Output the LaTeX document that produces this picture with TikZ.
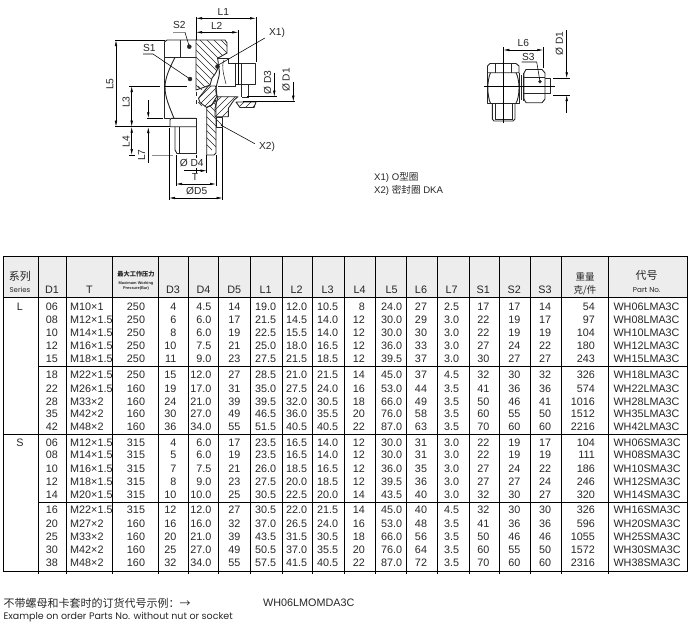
\documentclass[tikz,border=0pt]{standalone}
\usepackage{fontspec}
\setmainfont{Liberation Sans}
\newfontfamily\cjkfont{Noto Sans CJK SC}
\newfontfamily\geofont{Poppins}
\usepackage{tikz}
\usetikzlibrary{arrows.meta}
\definecolor{headgray}{gray}{0.93}
\definecolor{inkgray}{gray}{0.15}
\definecolor{leadgray}{gray}{0.55}
\tikzset{
  outline/.style={line width=.9pt,color=inkgray,line join=round},
  thinline/.style={line width=.55pt,color=inkgray},
  hatchline/.style={line width=.5pt,color=inkgray},
  dimline/.style={line width=.55pt,color=black,>={Latex[length=6pt,width=2.5pt]}},
  grayline/.style={line width=.8pt,color=leadgray},
  dimlabel/.style={inner sep=0pt,color=inkgray,font=\fontsize{10.2}{12}\selectfont},
  gridline/.style={line width=.8pt,color=black},
  cell/.style={inner sep=0pt,color=inkgray,font=\fontsize{10.8}{12}\selectfont}
}
% hatch of a closed region, lines go down to the right
\newcommand{\hatchdown}[1]{\begin{scope}\clip #1;
\foreach \h in {-120,-113,...,240} \draw[hatchline] (\h,0) -- ++(150,150);
\end{scope}\draw[outline] #1;}
% same, lines go up to the right
\newcommand{\hatchup}[1]{\begin{scope}\clip #1;
\foreach \h in {150,157,...,560} \draw[hatchline] (\h,0) -- ++(-150,150);
\end{scope}\draw[outline] #1;}
\def\colx{{52,70,136,176.5,211.7,234.3,265.7,296.7,327.7,365,391.7,421,451.7,483.3,514.3,545,595,613.3}}
\def\colanc{{"base","base west","base","base east","base east","base","base","base","base","base east","base","base","base","base","base","base","base east","base west"}}
\begin{document}
\begin{tikzpicture}[x=1pt,y=-1pt,line cap=butt]
\useasboundingbox (0,0) rectangle (690,633);
% left half of the fitting
\draw[outline] (196,40) -- (167,40) -- (164.5,42) -- (164.5,57.5) -- (196,57.5);
\draw[thinline] (180,40) -- (180,57.5);
\draw[outline] (164.5,57.5) -- (164.5,118.3) -- (170,118.3);
\draw[outline] (175,57.5) .. controls (170,67) and (165,78) .. (165,87) .. controls (165,98) and (170,108) .. (174,118.3);
\draw[outline] (196,118.3) -- (171,118.3) -- (170,120) -- (170,126.7) -- (196,126.7);
\draw[outline] (175,126.7) -- (175,150) -- (177,153.5) -- (196,153.5);
\draw[thinline] (179,126.7) -- (179,153.5);
% cut part of the fitting
\hatchdown{(196,40) -- (225,40) -- (227,43) -- (227,53) -- (219,57.5) -- (217.5,58) .. controls (219,64) and (219,70) .. (212,78) -- (210,85) -- (202,88) -- (196,90) -- cycle}
\hatchup{(198.5,98.3) -- (208.3,86) -- (215.5,86) .. controls (216.5,90) and (217,94) .. (216.7,96.7) -- (211.7,105) -- (206.7,107.5) -- (200,102.5) -- cycle}
\hatchdown{(206.7,107.5) -- (211.7,105) -- (216,100) -- (216,153) -- (214,155) -- (206.7,155) -- cycle}
\hatchup{(218,96.7) -- (238,96.7) -- (234,100) -- (228.3,108.3) -- (228.3,116.7) -- (215,116.7) -- (215,108.3) -- cycle}
\hatchup{(236,102) -- (256,102) -- (254,107.5) -- (240,107.5) -- cycle}
\hatchdown{(216,117) -- (222.5,117) -- (222.5,127.5) -- (216,127.5) -- cycle}
\draw[thinline] (196,92) -- (196,96) (196,100) -- (196,104) (196,118.3) -- (196,153.5);
\draw[thinline] (198,86) -- (202,90) (198,102) -- (202,106);
% seat, o-ring and stub
\draw[outline] (217.5,58) -- (228,58) -- (228,63) -- (235,63) -- (235,87);
\draw[thinline] (218,86) -- (235,86);
\draw[outline] (217.5,97) .. controls (214,92) and (217,84) .. (219,76) .. controls (220,72) and (219,69) .. (218.5,66);
\draw[thinline] (224,60) .. controls (221,66) and (224,76) .. (226,84);
\filldraw[color=inkgray] (217.5,66.5) circle (2);
\draw[outline] (235,63) -- (255.7,63) -- (255.7,84) -- (235,84);
\draw[outline] (241.7,63) -- (241.7,97);
\draw[thinline] (248,84) -- (248,97) -- (241.7,97);
% dimensions of the section
\draw[dimline] (196,17) -- (196,40) (256,17) -- (256,62) (238.3,30) -- (238.3,85);
\draw[dimline,<->] (196,18.3) -- (256,18.3);
\draw[dimline,<->] (196,32.3) -- (238.3,32.3);
\draw (223.3,12) node[dimlabel] (labL1) {L1};
\draw (216.7,25.7) node[dimlabel] (labL2) {L2};
\draw[dimline] (115,40) -- (165,40) (115,126.7) -- (170,126.7);
\draw[dimline,<->] (116,40) -- (116,126.7);
\draw (110,84) node[dimlabel,rotate=90] (labL5) {L5};
\draw[dimline] (129,86) -- (160,86) (164,86) -- (187,86);
\draw[dimline,<->] (131.7,86) -- (131.7,126.7);
\draw (126,102) node[dimlabel,rotate=90] (labL3) {L3};
\draw[dimline,<->] (131.7,126.7) -- (131.7,155);
\draw (126,141.7) node[dimlabel,rotate=90] (labL4) {L4};
\draw[dimline] (129,155) -- (135,155) (147,118.3) -- (163,118.3);
\draw[grayline] (152,155) -- (173,155);
\draw[dimline,->] (148.3,100) -- (148.3,118.3);
\draw[dimline,->] (148.3,163) -- (148.3,127);
\draw (141.7,155) node[dimlabel,rotate=90] (labL7) {L7};
\draw[dimline] (169,128) -- (169,200) (176,155) -- (176,186) (196,155) -- (196,173) (206.7,155) -- (206.7,173) (216,155) -- (216,186) (222.7,128) -- (222.7,200);
\draw[dimline,->] (184,170.7) -- (206.7,170.7);
\draw[dimline,<->] (176,184) -- (216,184);
\draw[dimline,<->] (169,198) -- (222.7,198);
\draw (191.7,163) node[dimlabel,fill=white,inner ysep=1pt] (labD4) {Ø D4};
\draw (195,177) node[dimlabel] (labT) {T};
\draw (196.7,190.7) node[dimlabel] (labD5) {ØD5};
\draw[dimline] (246.7,96.7) -- (276.7,96.7) (243,101.7) -- (295,101.7);
\draw[dimline,->] (274.3,72.7) -- (274.3,96.7);
\draw[dimline,->] (293.3,81.7) -- (293.3,101.7);
\draw (267.7,82.7) node[dimlabel,rotate=90] (labD3) {Ø D3};
\draw (286,80) node[dimlabel,rotate=90] (labD1) {Ø D1};
% leaders
\coordinate (dotS2) at (189.3,46.7);
\coordinate (dotS1) at (190,79);
\coordinate (ringX1) at (218.3,65);
\coordinate (sealX2) at (220.7,125);
\draw (179.3,25) node[dimlabel] (labS2) {S2};
\draw (149.3,48.3) node[dimlabel] (labS1) {S1};
\draw (277,33) node[dimlabel] (labX1) {X1)};
\draw (267,146.7) node[dimlabel] (labX2) {X2)};
\draw[grayline] (173,32.3) -- (185,32.3);
\draw[dimline] (185,32.3) -- (dotS2);
\draw[dimline] (143,54) -- (153,54) -- (dotS1);
\draw[dimline] (labX1.west) ++(-4,5) -- (ringX1);
\draw[dimline] (labX2.west) ++(-4,-3) -- (sealX2);
\filldraw[color=inkgray] (dotS2) circle (2);
\filldraw[color=inkgray] (dotS1) circle (2);
% side view
\draw[outline] (487.5,66) -- (490,63.5) -- (516,63.5) -- (519,66) -- (519,72.7) -- (487.5,72.7) -- cycle;
\draw[thinline] (495,63.5) -- (495,72.7) (511.7,63.5) -- (511.7,72.7);
\draw[outline] (487.5,72.7) -- (487.5,103.3) -- (519.5,103.3) -- (519.5,72.7);
\draw[outline] (490.5,72.7) .. controls (487,80) and (487,96) .. (490.5,103.3);
\draw[outline] (516,72.7) .. controls (520,80) and (520,96) .. (516,103.3);
\draw[outline] (492.3,103.3) -- (492.3,119) -- (494,121) -- (513,121) -- (515,119) -- (515,103.3);
\draw[thinline] (495,103.3) -- (495,119) -- (512,119) -- (512,103.3);
\draw[outline] (521,75) -- (521,100) (523,73) -- (523,101);
\draw[outline] (526,69.5) -- (542,69.5) -- (545,73) -- (545,99) -- (542,102.7) -- (526,102.7) -- (524,99) -- (524,73) -- cycle;
\draw[thinline] (524,77.5) -- (545,77.5) (524,93.3) -- (545,93.3);
\draw[outline] (545,78) -- (550,78) -- (550,93.3) -- (545,93.3);
\draw[dimline] (503.3,47) -- (503.3,122.7) (484,86) -- (555,86) (543.3,47) -- (543.3,68) (553,78.3) -- (570,78.3) (553,95) -- (570,95);
\draw[dimline,<->] (503.3,50) -- (543.3,50);
\draw[dimline,->] (566.7,30) -- (566.7,78.3);
\draw[dimline,->] (566.7,113) -- (566.7,95);
\draw (523.3,42.7) node[dimlabel] (labL6) {L6};
\draw (528.3,56.5) node[dimlabel] (labS3) {S3};
\draw (559.3,43.3) node[dimlabel,rotate=90] (labD1b) {Ø D1};
\coordinate (dotS3) at (540,81.7);
\draw[dimline] (521.7,62) -- (536.7,62) -- (dotS3);
\filldraw[color=inkgray] (dotS3) circle (1.5);
% notes
\draw (374,177.7) node[anchor=west,inner sep=0pt,color=inkgray,font=\fontsize{9.6}{12}\selectfont] (noteX1) {X1) O{\cjkfont 型圈}};
\draw (374,190) node[anchor=west,inner sep=0pt,color=inkgray,font=\fontsize{9.6}{12}\selectfont] (noteX2) {X2) {\cjkfont 密封圈} DKA};
% table frame
\fill[headgray] (3.3,256) rectangle (687,297.5);
\foreach \x in {3.3,687}
\draw[gridline] (\x,256) -- (\x,571.7);
\foreach \x in {38.5,66.5,112.5,158,188,218.5,250.5,282,312.5,344,375,406,437.3,469,499,530,561.7,608}
\draw[gridline] (\x,256) -- (\x,574);
\foreach \y in {256,297.5,434,571.7}
\draw[gridline] (3.3,\y) -- (687,\y);
\foreach \y in {366.7,502.3}
\draw[gridline] (38.5,\y) -- (687,\y);
% table head
\draw (20,276.5) node[cell,font=\cjkfont\fontsize{11}{12}\selectfont] (headSeries) {系列};
\draw (20,290) node[cell,font=\geofont\fontsize{7}{8}\selectfont] (headSeriesEn) {Series};
\foreach \nm/\x in {D1/52,T/89.5,D3/173,D4/203.5,D5/234.3,L1/265.7,L2/296.7,L3/327.7,L4/359.7,L5/391.7,L6/421,L7/451.7,S1/483.3,S2/514.3,S3/545}
\draw (\x,290) node[cell] (head\nm) {\nm};
\draw (136,274.5) node[cell,font=\cjkfont\bfseries\fontsize{6.2}{7}\selectfont] (headPress) {最大工作压力};
\draw (136,283) node[cell,font=\fontsize{3.9}{5}\selectfont\bfseries] (headPressA) {Maximum Working};
\draw (136,288.7) node[cell,font=\fontsize{3.9}{5}\selectfont\bfseries] (headPressB) {Pressure(Bar)};
\draw (585,276.7) node[cell,font=\cjkfont\fontsize{9.5}{11}\selectfont] (headMass) {重量};
\draw (585,290) node[cell,font=\cjkfont\fontsize{9.5}{11}\selectfont] (headMassB) {克/件};
\draw (646.7,275.7) node[cell,font=\cjkfont\fontsize{11}{12}\selectfont] (headPart) {代号};
\draw (646.7,289.7) node[cell,font=\geofont\fontsize{7.2}{8}\selectfont] (headPartEn) {Part No.};
\draw (20,306.7) node[cell] (serL) {L};
\draw (20,442.3) node[cell] (serS) {S};
% table rows
\foreach \yy/\vals [count=\rr] in {
306.7/{06,M10×1,250,4,4.5,14,19.0,12.0,10.5,8,24.0,27,2.5,17,17,14,54,WH06LMA3C},
320/{08,M12×1.5,250,6,6.0,17,21.5,14.5,14.0,12,30.0,29,3.0,22,19,17,97,WH08LMA3C},
332.7/{10,M14×1.5,250,8,6.0,19,22.5,15.5,14.0,12,30.0,30,3.0,22,19,19,104,WH10LMA3C},
345.7/{12,M16×1.5,250,10,7.5,21,25.0,18.0,16.5,12,36.0,33,3.0,27,24,22,180,WH12LMA3C},
358.3/{15,M18×1.5,250,11,9.0,23,27.5,21.5,18.5,12,39.5,37,3.0,30,27,27,243,WH15LMA3C},
375/{18,M22×1.5,250,15,12.0,27,28.5,21.0,21.5,14,45.0,37,4.5,32,30,32,326,WH18LMA3C},
388.3/{22,M26×1.5,160,19,17.0,31,35.0,27.5,24.0,16,53.0,44,3.5,41,36,36,574,WH22LMA3C},
401.7/{28,M33×2,160,24,21.0,39,39.5,32.0,30.5,18,66.0,49,3.5,50,46,41,1016,WH28LMA3C},
414/{35,M42×2,160,30,27.0,49,46.5,36.0,35.5,20,76.0,58,3.5,60,55,50,1512,WH35LMA3C},
426.7/{42,M48×2,160,36,34.0,55,51.5,40.5,40.5,22,87.0,63,3.5,70,60,60,2216,WH42LMA3C},
442.3/{06,M12×1.5,315,4,6.0,17,23.5,16.5,14.0,12,30.0,31,3.0,22,19,17,104,WH06SMA3C},
455/{08,M14×1.5,315,5,6.0,19,23.5,16.5,14.0,12,30.0,31,3.0,22,19,19,111,WH08SMA3C},
468.7/{10,M16×1.5,315,7,7.5,21,26.0,18.5,16.5,12,36.0,35,3.0,27,24,22,186,WH10SMA3C},
481.7/{12,M18×1.5,315,8,9.0,23,27.5,20.0,18.5,12,39.5,36,3.0,27,27,24,246,WH12SMA3C},
495/{14,M20×1.5,315,10,10.0,25,30.5,22.5,20.0,14,43.5,40,3.0,32,30,27,320,WH14SMA3C},
510/{16,M22×1.5,315,12,12.0,27,30.5,22.0,21.5,14,45.0,40,4.5,32,30,30,326,WH16SMA3C},
523.3/{20,M27×2,160,16,16.0,32,37.0,26.5,24.0,16,53.0,48,3.5,41,36,36,596,WH20SMA3C},
536.7/{25,M33×2,160,20,21.0,39,43.5,31.5,30.5,18,66.0,56,3.5,50,46,46,1055,WH25SMA3C},
550/{30,M42×2,160,25,27.0,49,50.5,37.0,35.5,20,76.0,64,3.5,60,55,50,1572,WH30SMA3C},
563/{38,M48×2,160,32,34.0,55,57.5,41.5,40.5,22,87.0,72,3.5,70,60,60,2316,WH38SMA3C}}
\foreach \val [count=\cc] in \vals {
\pgfmathsetmacro{\cx}{\colx[\cc-1]}
\pgfmathparse{\colanc[\cc-1]}\let\ca\pgfmathresult
\draw (\cx,\yy+3.8) node[cell,anchor=\ca] (cell\rr-\cc) {\val};
};
% order example
\draw (3.3,603) node[anchor=west,inner sep=0pt,color=inkgray,font=\cjkfont\fontsize{11}{12}\selectfont] (noteCn) {不带螺母和卡套时的订货代号示例：→};
\draw (3.3,616.7) node[anchor=west,inner sep=0pt,color=inkgray,font=\geofont\fontsize{9.5}{12}\selectfont] (noteEn) {Example on order Parts No. without nut or socket};
\draw (263,603) node[anchor=west,inner sep=0pt,color=inkgray,font=\fontsize{10.8}{12}\selectfont] (noteNo) {WH06LMOMDA3C};
\end{tikzpicture}
\end{document}
